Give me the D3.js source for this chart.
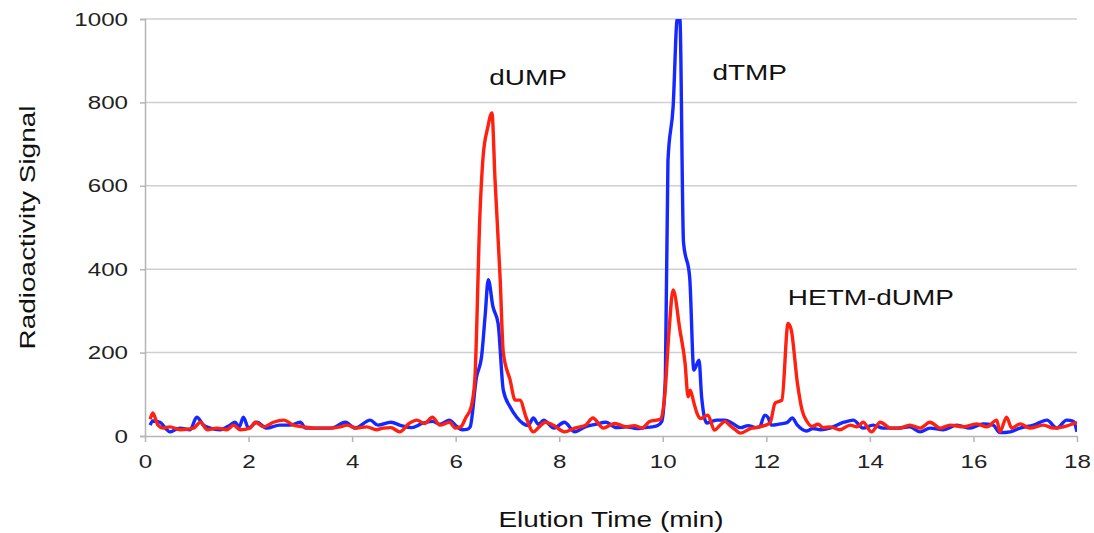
<!DOCTYPE html>
<html><head><meta charset="utf-8">
<script src="https://cdn.jsdelivr.net/npm/d3@7"></script>
<style>body{margin:0;background:#fff}svg{display:block}</style>
</head><body>
<svg id="c" width="1094" height="533"></svg>
<script>
const xTicks = [0,2,4,6,8,10,12,14,16,18];
const yTicks = [0,200,400,600,800,1000];
const xTitle = "Elution Time (min)";
const yTitle = "Radioactivity Signal";
const peakLabels = ["dUMP","dTMP","HETM-dUMP"];
const peakLabelTime = [7.4, 11.68, 14.02];
const peakLabelValue = [842, 854, 314];

const blueTime = [0.1,0.15,0.29,0.4,0.48,0.6,0.68,0.87,1.0,1.13,1.26,1.45,1.64,1.74,1.82,1.9,2.0,2.16,2.35,2.6,2.8,3.0,3.1,3.36,3.6,3.87,4.06,4.35,4.5,4.75,4.95,5.15,5.35,5.55,5.7,5.88,6.0,6.13,6.22,6.28,6.4,6.5,6.57,6.63,6.72,6.82,6.92,7.05,7.18,7.3,7.4,7.5,7.6,7.7,7.9,8.1,8.3,8.5,8.7,8.9,9.1,9.3,9.5,9.65,9.8,9.9,9.98,10.05,10.1,10.2,10.28,10.33,10.4,10.52,10.6,10.7,10.75,10.85,10.95,11.05,11.2,11.35,11.5,11.65,11.8,11.87,11.97,12.03,12.1,12.27,12.4,12.5,12.6,12.78,12.9,13.05,13.23,13.5,13.68,13.87,14.06,14.26,14.52,14.77,14.97,15.16,15.42,15.68,15.93,16.19,16.38,16.51,16.71,16.9,17.16,17.42,17.61,17.8,17.93,18.0];
const blueSignal = [26,36,33,18,10,16,19,15,45,26,19,15,26,33,22,45,19,33,19,26,26,33,19,19,19,33,19,38,26,33,25,20,30,35,28,38,25,15,16,22,140,190,290,375,310,270,110,70,45,30,25,43,28,38,19,33,10,22,28,33,20,22,18,20,22,25,35,140,660,790,1000,1000,465,380,158,182,94,31,35,38,38,30,20,25,20,22,50,45,26,29,32,43,26,12,18,15,19,33,38,19,26,19,19,22,10,19,15,26,19,29,26,8,10,19,26,38,19,38,35,10];

const redTime = [0.1,0.15,0.25,0.35,0.48,0.68,0.94,1.07,1.2,1.39,1.58,1.71,1.84,2.03,2.13,2.29,2.48,2.68,2.87,3.06,3.26,3.52,3.77,3.9,4.09,4.28,4.47,4.6,4.75,4.92,5.1,5.25,5.4,5.55,5.7,5.88,6.0,6.1,6.2,6.3,6.37,6.47,6.53,6.62,6.7,6.76,6.86,6.92,7.05,7.15,7.24,7.36,7.5,7.6,7.73,7.9,8.1,8.3,8.5,8.65,8.85,9.07,9.3,9.45,9.6,9.75,9.88,9.95,10.04,10.12,10.2,10.33,10.43,10.49,10.53,10.6,10.66,10.73,10.87,11.0,11.1,11.2,11.3,11.4,11.5,11.7,11.87,12.07,12.17,12.3,12.42,12.48,12.6,12.69,12.78,12.88,13.0,13.1,13.23,13.42,13.62,13.75,13.87,14.03,14.2,14.4,14.58,14.77,14.97,15.16,15.36,15.55,15.81,16.06,16.26,16.45,16.51,16.64,16.74,16.9,17.09,17.35,17.55,17.74,18.0];
const redSignal = [40,55,26,19,22,15,19,33,15,19,15,26,15,19,33,22,33,38,26,22,19,19,22,26,19,22,15,19,20,10,30,38,30,45,26,33,19,22,45,70,135,535,670,740,775,615,375,200,135,86,86,45,10,20,33,25,10,19,25,43,19,30,22,25,19,35,38,40,100,250,350,255,175,94,110,80,55,42,50,14,25,35,25,15,7,18,22,31,79,86,270,255,127,62,36,23,28,20,22,15,26,22,33,10,33,19,19,26,19,33,19,26,22,29,22,38,10,45,19,29,19,26,19,22,33];

const svg = d3.select("#c");
const font = "'Liberation Sans', Arial, Helvetica, sans-serif";
const stretch = 1.27;
const x = d3.scaleLinear().domain([0,18]).range([145,1077]);
const y = d3.scaleLinear().domain([0,1000]).range([436,19]);

function widen(sel){
  sel.each(function(){
    const w = this.getComputedTextLength();
    d3.select(this).attr("textLength", w*stretch).attr("lengthAdjust","spacingAndGlyphs");
  });
}

// gridlines
svg.append("g").selectAll("line").data(yTicks.filter(d=>d>0)).join("line")
  .attr("x1",x(0)).attr("x2",x(18)).attr("y1",d=>y(d)).attr("y2",d=>y(d))
  .attr("stroke","#cfcfcf").attr("stroke-width",1.5);

// y axis
const yAxis = svg.append("g").attr("transform",`translate(${x(0)},0)`)
  .call(d3.axisLeft(y).tickValues(yTicks).tickSize(5).tickPadding(12).tickFormat(d3.format("d")));
yAxis.select(".domain").attr("stroke","#b5b5b5").attr("stroke-width",1.5);
yAxis.selectAll(".tick line").attr("stroke","#b5b5b5").attr("stroke-width",1.5);
yAxis.selectAll("text").attr("font-family",font).attr("font-size",19).attr("fill","#222").call(widen);

// x axis
const xAxis = svg.append("g").attr("transform",`translate(0,${y(0)})`)
  .call(d3.axisBottom(x).tickValues(xTicks).tickSize(6).tickSizeOuter(0).tickPadding(13).tickFormat(d3.format("d")));
xAxis.select(".domain").attr("stroke","#b5b5b5").attr("stroke-width",1.5);
xAxis.selectAll(".tick line").attr("stroke","#b5b5b5").attr("stroke-width",1.5);
xAxis.selectAll("text").attr("font-family",font).attr("font-size",19).attr("fill","#222").call(widen);

// clip
svg.append("clipPath").attr("id","pc").append("rect")
  .attr("x",x(0)).attr("y",y(1000)).attr("width",x(18)-x(0)).attr("height",y(0)-y(1000)+2);

const line = d3.line().x(d=>x(d[0])).y(d=>y(d[1])).curve(d3.curveMonotoneX);
const plot = svg.append("g").attr("clip-path","url(#pc)");
plot.append("path").datum(d3.zip(blueTime,blueSignal)).attr("d",line)
  .attr("fill","none").attr("stroke","#1428ff").attr("stroke-width",3.4).attr("stroke-linejoin","round");
plot.append("path").datum(d3.zip(redTime,redSignal)).attr("d",line)
  .attr("fill","none").attr("stroke","#ff2010").attr("stroke-width",3.4).attr("stroke-linejoin","round");

// peak labels
svg.append("g").selectAll("text").data(peakLabels).join("text")
  .attr("x",(d,i)=>x(peakLabelTime[i])).attr("y",(d,i)=>y(peakLabelValue[i]))
  .attr("text-anchor","middle").attr("font-family",font).attr("font-size",22).attr("fill","#111")
  .text(d=>d).call(widen);

// titles
svg.append("text").attr("x",(x(0)+x(18))/2).attr("y",527).attr("text-anchor","middle")
  .attr("font-family",font).attr("font-size",22).attr("fill","#111").text(xTitle).call(widen);
svg.append("text").attr("transform",`translate(35,${(y(0)+y(1000))/2}) rotate(-90)`)
  .attr("text-anchor","middle").attr("font-family",font).attr("font-size",22).attr("fill","#111").text(yTitle).call(widen);
</script>
</body></html>
